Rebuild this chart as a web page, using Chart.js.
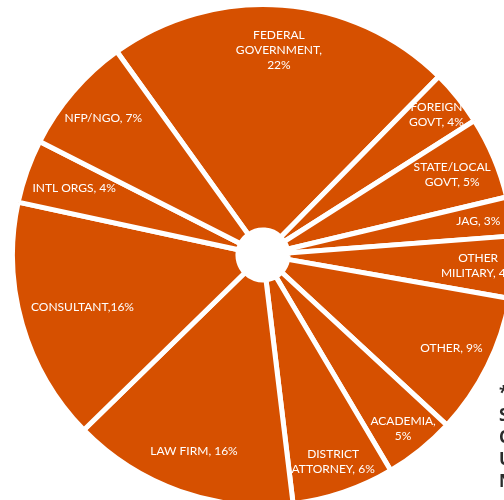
<!DOCTYPE html>
<html>
<head>
<meta charset="utf-8">
<script src="https://cdn.jsdelivr.net/npm/chart.js@4"></script>
<style>
  html, body { margin: 0; padding: 0; background: #fff; overflow: hidden; width: 504px; height: 500px; }
  #wrap { position: absolute; left: 10px; top: 2px; width: 506px; height: 506px; }
  #note { position: absolute; left: 499px; top: 382px; font: bold 17px "Open Sans", sans-serif; line-height: 22px; color: #2b2b2b; white-space: nowrap; }
</style>
</head>
<body>
<div id="wrap"><canvas id="myChart" width="506" height="506"></canvas></div>
<div id="note">*<br>S<br>C<br>U<br>N</div>
<script>
// sectors, clockwise from the Federal Government slice
const categories = ["FEDERAL GOVERNMENT", "FOREIGN GOVT", "STATE/LOCAL GOVT", "JAG", "OTHER MILITARY",
    "OTHER", "ACADEMIA", "DISTRICT ATTORNEY", "LAW FIRM", "CONSULTANT", "INTL ORGS", "NFP/NGO"];
// share of the circle
const shares = [22.3, 3.6, 5.3, 2.5, 4.0, 9.1, 4.6, 6.6, 14.6, 15.7, 4.1, 7.6];
// label text as printed, one entry per line
const labelLines = [
    ["FEDERAL", "GOVERNMENT,", "22%"],
    ["FOREIGN", "GOVT, 4%"],
    ["STATE/LOCAL", "GOVT, 5%"],
    ["JAG, 3%"],
    ["OTHER", "MILITARY, 4%"],
    ["OTHER, 9%"],
    ["ACADEMIA,", "5%"],
    ["DISTRICT", "ATTORNEY, 6%"],
    ["LAW FIRM, 16%"],
    ["CONSULTANT,16%"],
    ["INTL ORGS, 4%"],
    ["NFP/NGO, 7%"]
];

// how far out each label sits (fraction of outer radius)
const labelRadius = [0.82, 0.89, 0.82, 0.87, 0.86, 0.84, 0.89, 0.87, 0.83, 0.75, 0.80, 0.84];

const sliceLabels = {
    id: 'sliceLabels',
    afterDatasetsDraw(chart) {
        const ctx = chart.ctx;
        const arcs = chart.getDatasetMeta(0).data;
        ctx.save();
        ctx.fillStyle = '#fff';
        ctx.font = '12px Lato, sans-serif';
        ctx.textAlign = 'center';
        ctx.textBaseline = 'middle';
        arcs.forEach((arc, i) => {
            const mid = (arc.startAngle + arc.endAngle) / 2;
            const r = arc.outerRadius * labelRadius[i];
            const cx = arc.x + Math.cos(mid) * r;
            const cy = arc.y + Math.sin(mid) * r;
            const lines = labelLines[i];
            const lh = 15;
            lines.forEach((t, j) => {
                ctx.fillText(t, cx, cy + (j - (lines.length - 1) / 2) * lh);
            });
        });
        ctx.restore();
    }
};

const ctx = document.getElementById('myChart').getContext('2d');
window.myChart = new Chart(ctx, {
    type: 'doughnut',
    data: {
        labels: categories,
        datasets: [{
            data: shares,
            backgroundColor: '#D65000',
            borderColor: '#ffffff',
            borderWidth: 5
        }]
    },
    options: {
        responsive: false,
        animation: false,
        devicePixelRatio: 1,
        cutout: '10%',
        rotation: -35.7,
        layout: { padding: 0 },
        plugins: {
            legend: { display: false },
            tooltip: { enabled: false }
        }
    },
    plugins: [sliceLabels]
});
</script>
</body>
</html>
